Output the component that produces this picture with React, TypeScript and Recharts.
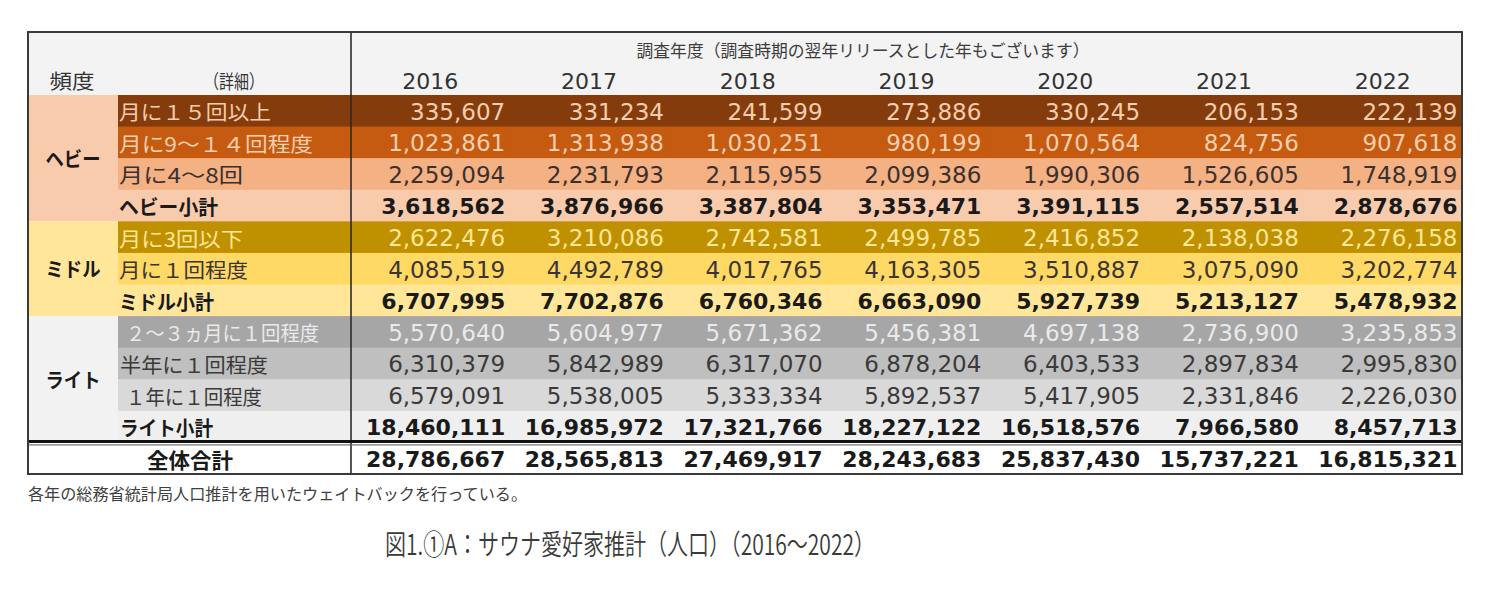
import React from 'react';
import { ScatterChart, Scatter, XAxis, YAxis } from 'recharts';

// 調査年度
const years = ['2016', '2017', '2018', '2019', '2020', '2021', '2022'];

// 頻度グループ
const groupNames = ['ヘビー', 'ミドル', 'ライト'];
const groupSizes = [4, 3, 4];

// 詳細（行ラベル）
const rowLabels = [
  '月に１５回以上',
  '月に9～１４回程度',
  '月に4～8回',
  'ヘビー小計',
  '月に3回以下',
  '月に１回程度',
  'ミドル小計',
  '２～３ヵ月に１回程度',
  '半年に１回程度',
  '１年に１回程度',
  'ライト小計',
  '全体合計',
];

const heavy15 = [335607, 331234, 241599, 273886, 330245, 206153, 222139];
const heavy9to14 = [1023861, 1313938, 1030251, 980199, 1070564, 824756, 907618];
const heavy4to8 = [2259094, 2231793, 2115955, 2099386, 1990306, 1526605, 1748919];
const heavySubtotal = [3618562, 3876966, 3387804, 3353471, 3391115, 2557514, 2878676];
const middle3 = [2622476, 3210086, 2742581, 2499785, 2416852, 2138038, 2276158];
const middle1 = [4085519, 4492789, 4017765, 4163305, 3510887, 3075090, 3202774];
const middleSubtotal = [6707995, 7702876, 6760346, 6663090, 5927739, 5213127, 5478932];
const light2to3m = [5570640, 5604977, 5671362, 5456381, 4697138, 2736900, 3235853];
const lightHalfYear = [6310379, 5842989, 6317070, 6878204, 6403533, 2897834, 2995830];
const lightYear = [6579091, 5538005, 5333334, 5892537, 5417905, 2331846, 2226030];
const lightSubtotal = [18460111, 16985972, 17321766, 18227122, 16518576, 7966580, 8457713];
const grandTotal = [28786667, 28565813, 27469917, 28243683, 25837430, 15737221, 16815321];

const rowValues = [
  heavy15, heavy9to14, heavy4to8, heavySubtotal,
  middle3, middle1, middleSubtotal,
  light2to3m, lightHalfYear, lightYear, lightSubtotal,
  grandTotal,
];

const headerTitle = '調査年度（調査時期の翌年リリースとした年もございます）';
const footnote = '各年の総務省統計局人口推計を用いたウェイトバックを行っている。';
const caption = '図1.①A：サウナ愛好家推計（人口）（2016～2022）';

// 見た目
const rowStyles = [
  { bg: '#843C0C', fg: '#F6CDAE', bold: false, labelW: 152, indent: 0 },
  { bg: '#C55A11', fg: '#F8CFAE', bold: false, labelW: 194, indent: 0 },
  { bg: '#F4B183', fg: '#3A3030', bold: false, labelW: 124, indent: 0 },
  { bg: '#F8CBAD', fg: '#1A1A1A', bold: true, labelW: 99, indent: 0 },
  { bg: '#BF9000', fg: '#FFE699', bold: false, labelW: 124, indent: 0 },
  { bg: '#FFD966', fg: '#3A3530', bold: false, labelW: 129, indent: 0 },
  { bg: '#FFE699', fg: '#1A1A1A', bold: true, labelW: 95, indent: 0 },
  { bg: '#A6A6A6', fg: '#EAEAEA', bold: false, labelW: 200, indent: 7 },
  { bg: '#BFBFBF', fg: '#3A3A3A', bold: false, labelW: 149, indent: 1 },
  { bg: '#D9D9D9', fg: '#3A3A3A', bold: false, labelW: 143, indent: 7 },
  { bg: '#EFEFEF', fg: '#1A1A1A', bold: true, labelW: 94, indent: 1 },
  { bg: '#FFFFFF', fg: '#1A1A1A', bold: true, labelW: 86, indent: 0 },
];
const groupBgs = ['#F8CBAD', '#FFE699', '#F2F2F2'];

const W = 1504;
const H = 589;
const LEFT = 28;
const SPLIT = 351;
const DETAIL_X = 118;
const RIGHT = 1462;
const TOP = 32;
const PLOT_TOP = 95;
const BOTTOM = 474;
const CELL_W = (RIGHT - SPLIT) / years.length;
const CELL_H = (BOTTOM - PLOT_TOP) / rowLabels.length;

const JP = "'Noto Sans CJK JP', sans-serif";
const NUM = "'DejaVu Sans', sans-serif";

const cells = rowValues.flatMap((vals, r) => vals.map((v, c) => ({ col: c, row: r, value: v })));

const fmt = (v: number) => v.toLocaleString('en-US');

const CellShape = (props: any) => {
  const { cx, cy, payload } = props;
  const st = rowStyles[payload.row];
  return (
    <g>
      <rect x={cx - CELL_W / 2} y={cy - CELL_H / 2} width={CELL_W + 1} height={CELL_H + 0.6} fill={st.bg} />
      <text
        x={cx + CELL_W / 2 - 4.5}
        y={cy + 1}
        textAnchor="end"
        dominantBaseline="central"
        fontFamily={NUM}
        fontSize={st.bold ? 22 : 23}
        fontWeight={st.bold ? 700 : 400}
        fill={st.fg}
      >
        {fmt(payload.value)}
      </text>
    </g>
  );
};

const YearTick = (props: any) => {
  const { x, payload, index } = props;
  return (
    <g>
      {index === 0 && (
        <g>
          <rect x={LEFT} y={TOP} width={RIGHT - LEFT} height={PLOT_TOP - TOP} fill="#F3F3F3" />
          <text x={863} y={49} textAnchor="middle" dominantBaseline="central" fontFamily={JP} fontSize={17}
            textLength={453} lengthAdjust="spacingAndGlyphs" fill="#3C3C3C">{headerTitle}</text>
          <text x={72} y={80} textAnchor="middle" dominantBaseline="central" fontFamily={JP} fontSize={20}
            textLength={45} lengthAdjust="spacingAndGlyphs" fill="#333">頻度</text>
          <text x={234} y={80} textAnchor="middle" dominantBaseline="central" fontFamily={JP} fontSize={19}
            textLength={60} lengthAdjust="spacingAndGlyphs" fill="#333">（詳細）</text>
        </g>
      )}
      <text x={x} y={81} textAnchor="middle" dominantBaseline="central" fontFamily={NUM} fontSize={22} fill="#333">
        {years[payload.value]}
      </text>
    </g>
  );
};

const groupStarts = groupSizes.map((_, i) => groupSizes.slice(0, i).reduce((a, b) => a + b, 0));

const RowTick = (props: any) => {
  const { y, payload } = props;
  const r = payload.value as number;
  const st = rowStyles[r];
  const top = y - CELL_H / 2;
  const g = groupStarts.indexOf(r);
  if (r === rowLabels.length - 1) {
    return (
      <g>
        <rect x={LEFT} y={top} width={SPLIT - LEFT} height={CELL_H} fill={st.bg} />
        <text x={190} y={y + 1} textAnchor="middle" dominantBaseline="central" fontFamily={JP} fontSize={21}
          fontWeight={700} textLength={st.labelW} lengthAdjust="spacingAndGlyphs" fill={st.fg}>{rowLabels[r]}</text>
      </g>
    );
  }
  return (
    <g>
      {g >= 0 && (
        <g>
          <rect x={LEFT} y={top} width={DETAIL_X - LEFT} height={CELL_H * groupSizes[g]} fill={groupBgs[g]} />
          <text x={73} y={top + (CELL_H * groupSizes[g]) / 2} textAnchor="middle" dominantBaseline="central"
            fontFamily={JP} fontSize={20} fontWeight={700} textLength={55} lengthAdjust="spacingAndGlyphs"
            fill="#1A1A1A">{groupNames[g]}</text>
        </g>
      )}
      <rect x={DETAIL_X} y={top} width={SPLIT - DETAIL_X} height={CELL_H + 0.6} fill={st.bg} />
      <text x={DETAIL_X + 1 + st.indent} y={y + 1} dominantBaseline="central" fontFamily={JP} fontSize={20}
        fontWeight={st.bold ? 700 : 400} textLength={st.labelW - st.indent} lengthAdjust="spacingAndGlyphs"
        fill={st.fg}>{rowLabels[r]}</text>
    </g>
  );
};

// 罫線（表の上に重ねる）
const Borders = () => {
  const lineY = PLOT_TOP + CELL_H * (rowLabels.length - 1);
  return (
    <svg width={W} height={H} style={{ position: 'absolute', left: 0, top: 0, pointerEvents: 'none' }}>
      <line x1={SPLIT} y1={TOP} x2={SPLIT} y2={BOTTOM} stroke="#2B2B2B" strokeWidth={1.6} />
      <line x1={LEFT} y1={lineY - 1} x2={RIGHT} y2={lineY - 1} stroke="#111" strokeWidth={3} />
      <line x1={LEFT} y1={lineY + 2.5} x2={RIGHT} y2={lineY + 2.5} stroke="#555" strokeWidth={1} />
      <rect x={LEFT} y={TOP} width={RIGHT - LEFT} height={BOTTOM - TOP} fill="none" stroke="#3A3A3A" strokeWidth={2} />
    </svg>
  );
};

export default function App() {
  return (
    <div style={{ position: 'absolute', left: 0, top: 0, width: W, height: H, background: '#fff' }}>
      <ScatterChart width={W} height={H} margin={{ top: TOP, right: W - RIGHT, bottom: H - BOTTOM, left: LEFT }}>
        <XAxis
          type="number"
          dataKey="col"
          orientation="top"
          domain={[-0.5, years.length - 0.5]}
          ticks={years.map((_, i) => i)}
          interval={0}
          height={PLOT_TOP - TOP}
          axisLine={false}
          tickLine={false}
          tick={(p: any) => <YearTick {...p} />}
        />
        <YAxis
          type="number"
          dataKey="row"
          reversed
          domain={[-0.5, rowLabels.length - 0.5]}
          ticks={rowLabels.map((_, i) => i)}
          interval={0}
          width={SPLIT - LEFT}
          axisLine={false}
          tickLine={false}
          tick={(p: any) => <RowTick {...p} />}
        />
        <Scatter data={cells} shape={(p: any) => <CellShape {...p} />} isAnimationActive={false} />
        <g>
          <text x={LEFT} y={493} dominantBaseline="central" fontFamily={JP} fontSize={16} textLength={499}
            lengthAdjust="spacingAndGlyphs" fill="#404040">{footnote}</text>
          <text x={630} y={543} textAnchor="middle" dominantBaseline="central" fontFamily={JP} fontSize={28}
            fontWeight={350} textLength={490} lengthAdjust="spacingAndGlyphs" fill="#3A3A3A">{caption}</text>
        </g>
      </ScatterChart>
      <Borders />
    </div>
  );
}
